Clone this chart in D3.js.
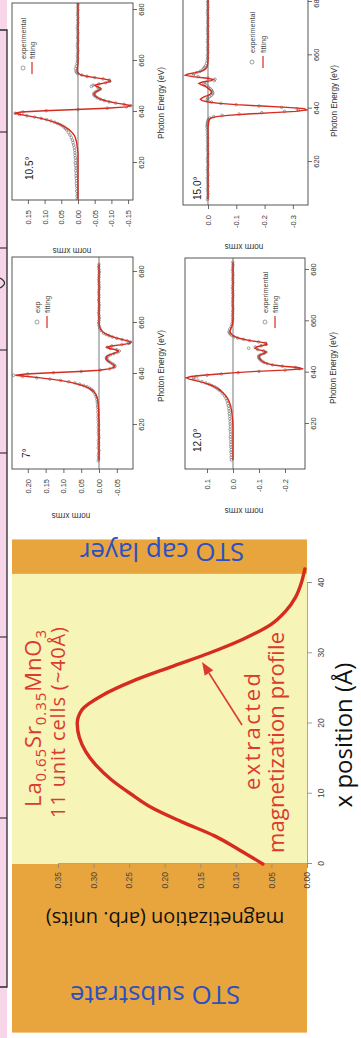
<!DOCTYPE html>
<html>
<head>
<meta charset="utf-8">
<script src="https://cdn.jsdelivr.net/npm/d3@7/dist/d3.min.js"></script>
<style>
  html, body { margin: 0; padding: 0; background: #fff; }
  svg { display: block; }
</style>
</head>
<body>
<svg id="slide" width="361" height="1038"></svg>
<script>
// ---------- magnetization depth profile ----------
const positionA = [0, 2, 4, 6, 8, 10, 12, 14, 16, 18, 20, 22, 24, 26, 28, 30, 32, 34, 36, 38, 40, 42];
const magnetization = [0.062, 0.095, 0.130, 0.176, 0.218, 0.248, 0.275, 0.296, 0.311, 0.320, 0.323,
                       0.316, 0.288, 0.246, 0.193, 0.138, 0.090, 0.052, 0.030, 0.016, 0.008, 0.003];
const positionTicks = [0, 10, 20, 30, 40];
const magnetizationTicks = [0, 0.05, 0.10, 0.15, 0.20, 0.25, 0.30, 0.35];
// layer boundaries in Å: substrate | LSMO film | cap
const layerEdges = [-24, 0, 41.3, 46.2];

// ---------- XRMS spectra: photon energy grid (eV) ----------
const energyEV = [
  606,607,608,609,610,611,612,613,614,615,616,617,618,619,620,621,622,623,624,625,626,627,628,629,630,631,632,633,
  633.5,634,634.5,635,635.5,636,636.5,637,637.5,638,638.5,639,639.5,640,640.5,641,641.5,642,642.5,643,643.5,644,644.5,
  645,645.5,646,646.5,647,647.5,648,648.5,649,649.5,650,650.5,651,651.5,652,652.5,653,653.5,654,654.5,655,655.5,656,
  657,658,659,660,661,662,663,664,665,666,667,668,669,670,671,672,673,674,675,676,677,678,679,680,681,682,683
];

// 7 degrees
const fit7 = [
  0,0,0,0,0,0,0,0,0,0,0,0,0,0,0,0,0,0.001,0.001,0.001,0.001,0.002,0.002,0.003,0.004,0.006,0.009,0.014,
  0.018,0.023,0.029,0.037,0.047,0.059,0.073,0.09,0.11,0.135,0.165,0.2,0.235,0.205,0.135,0.055,0,-0.028,-0.04,-0.044,-0.042,-0.037,-0.031,
  -0.026,-0.022,-0.02,-0.02,-0.023,-0.03,-0.04,-0.05,-0.055,-0.048,-0.03,-0.022,-0.035,-0.065,-0.086,-0.09,-0.08,-0.066,-0.052,-0.04,-0.03,-0.022,-0.015,
  -0.007,-0.003,-0.001,0,0,0,0,0,0,0,0,0,0,0,0,0,0,0,0,0,0,0,0,0,0,0,0
];
const exp7 = [
  0.002,0.001,0.002,0.001,0,0.002,0.001,0.001,0.002,0,0.001,0.002,0.001,0.002,0.001,0.002,0.002,0.003,0.002,0.003,0.003,0.004,0.004,0.005,0.006,0.008,0.011,0.015,
  0.018,0.022,0.027,0.034,0.043,0.054,0.068,0.085,0.108,0.138,0.175,0.215,0.24,0.2,0.128,0.05,-0.003,-0.03,-0.041,-0.045,-0.043,-0.038,-0.032,
  -0.027,-0.023,-0.021,-0.021,-0.025,-0.032,-0.042,-0.052,-0.057,-0.05,-0.032,-0.024,-0.036,-0.064,-0.084,-0.088,-0.079,-0.065,-0.05,-0.038,-0.028,-0.02,-0.013,
  -0.006,-0.002,0,0.001,0,-0.001,0,0.001,0,0,-0.001,0,0.001,0,0,0.001,0,-0.001,0,0,0.001,0,0,-0.001,0,0.001,0
];

// 10.5 degrees
const fit105 = [
  0,0,0,0,0,0,0,0,0,0,0,0,0,0,0,0,0,0,0,0.001,0.002,0.003,0.004,0.006,0.008,0.012,0.018,0.026,
  0.031,0.037,0.044,0.052,0.061,0.071,0.083,0.096,0.111,0.129,0.15,0.172,0.19,0.17,0.1,0.005,-0.085,-0.145,-0.16,-0.14,-0.115,-0.095,-0.08,
  -0.068,-0.06,-0.054,-0.05,-0.048,-0.05,-0.055,-0.062,-0.068,-0.066,-0.056,-0.05,-0.064,-0.085,-0.097,-0.095,-0.076,-0.05,-0.026,-0.01,-0.002,0.001,0.002,
  0.002,0.001,0,0,0,0,0,0,0,0,0,0,0,0,0,0,0,0,0,0,0,0,0,0,0,0,0
];
const exp105 = [
  0.002,0.003,0.002,0.004,0.003,0.004,0.005,0.004,0.005,0.006,0.005,0.007,0.006,0.007,0.008,0.007,0.008,0.009,0.009,0.01,0.011,0.013,0.015,0.017,0.02,0.024,0.029,0.034,
  0.037,0.041,0.046,0.053,0.061,0.07,0.081,0.094,0.11,0.13,0.153,0.175,0.188,0.165,0.095,0,-0.088,-0.145,-0.158,-0.138,-0.113,-0.093,-0.079,
  -0.067,-0.059,-0.053,-0.049,-0.047,-0.049,-0.054,-0.061,-0.067,-0.06,-0.04,-0.045,-0.062,-0.083,-0.095,-0.093,-0.075,-0.05,-0.027,-0.011,0,0.004,0.006,
  0.007,0.005,0.003,0.002,0.001,0.002,0.001,0,0.001,0.002,0.001,0,0.001,0.001,0,0.001,0.002,0.001,0,0.001,0,0.001,0.001,0,0.001,0,0.001
];

// 12.0 degrees
const fit12 = [
  0,0,0,0,0,0,0,0,0,0,0,0,0,0,0.001,0.001,0.002,0.003,0.004,0.005,0.007,0.009,0.012,0.016,0.021,0.028,0.037,0.048,
  0.054,0.062,0.071,0.082,0.095,0.11,0.128,0.148,0.168,0.18,0.162,0.115,0.055,-0.01,-0.09,-0.2,-0.27,-0.25,-0.195,-0.155,-0.133,-0.12,-0.112,
  -0.106,-0.102,-0.1,-0.1,-0.107,-0.12,-0.128,-0.118,-0.096,-0.085,-0.09,-0.11,-0.13,-0.128,-0.1,-0.065,-0.04,-0.02,-0.007,0.001,0.006,0.01,0.012,
  0.009,0.005,0.002,0.001,0,0,0,0,0,0,0,0,0,0,0,0,0,0,0,0,0,0,0,0,0,0,0
];
const exp12 = [
  0.006,0.007,0.006,0.008,0.007,0.008,0.009,0.008,0.009,0.01,0.009,0.01,0.011,0.01,0.011,0.011,0.012,0.013,0.014,0.015,0.016,0.018,0.02,0.023,0.027,0.033,0.041,0.05,
  0.056,0.063,0.071,0.081,0.092,0.105,0.12,0.135,0.15,0.152,0.14,0.1,0.045,-0.02,-0.1,-0.2,-0.255,-0.24,-0.19,-0.152,-0.131,-0.119,-0.111,
  -0.105,-0.101,-0.099,-0.099,-0.106,-0.119,-0.126,-0.117,-0.095,-0.06,-0.085,-0.108,-0.127,-0.125,-0.098,-0.064,-0.04,-0.018,-0.004,0.005,0.01,0.014,0.015,
  0.012,0.007,0.004,0.002,0.001,0.002,0.001,0.001,0,0.001,0.002,0.001,0.001,0,0.001,0.001,0.002,0.001,0,0.001,0.001,0,0.001,0.002,0.001,0,0.001
];

// 15.0 degrees
const fit15 = [
  0,0,0,0,0,0,0,0,0,0,0,0,0,0,0,0,0,0,0,0,0,0,0,0,0,0,0,0,
  -0.001,-0.001,-0.002,-0.002,-0.003,-0.005,-0.01,-0.03,-0.07,-0.14,-0.23,-0.31,-0.35,-0.34,-0.28,-0.19,-0.1,-0.04,0,0.02,0.027,0.022,0.012,
  0,-0.008,-0.012,-0.012,-0.008,-0.002,0.004,0.012,0.025,0.032,0.02,-0.012,-0.018,0.01,0.055,0.08,0.07,0.045,0.025,0.013,0.007,0.004,0.002,
  0.001,0,0,0,0,0,0,0,0,0,0,0,0,0,0,0,0,0,0,0,0,0,0,0,0,0,0
];
const exp15 = [
  0.002,0.001,0,0.001,0.002,0,0.001,0.001,0.002,0,0.001,0.002,0.001,0,0.001,0.002,0.001,0,0.001,0.002,0.001,0.001,0.002,0.001,0.002,0.002,0.003,0.003,
  0.003,0.002,0.002,0.001,0,-0.002,-0.006,-0.02,-0.05,-0.11,-0.19,-0.27,-0.32,-0.315,-0.26,-0.18,-0.1,-0.045,-0.012,0,0.003,0,-0.006,
  -0.012,-0.016,-0.017,-0.015,-0.012,-0.007,-0.002,0.004,0.012,0.015,0.005,-0.022,-0.025,0,0.035,0.052,0.05,0.04,0.028,0.02,0.015,0.012,0.009,
  0.005,0.003,0.001,0.002,0,0.001,0.001,0,0.002,0.001,0,0.001,0.001,0.002,0,0.001,0.001,0,0.001,0.002,0.001,0,0.001,0.001,0,0.001,0.001
];

const angleLabels = ["7°", "10.5°", "12.0°", "15.0°"];
const energyTicks = [620, 640, 660, 680];
const xrmsTicks7 = [-0.05, 0, 0.05, 0.10, 0.15, 0.20];
const xrmsTicks105 = [-0.15, -0.10, -0.05, 0, 0.05, 0.10, 0.15];
const xrmsTicks12 = [-0.2, -0.1, 0, 0.1];
const xrmsTicks15 = [-0.3, -0.2, -0.1, 0];
const legendLabels7 = ["exp", "fitting"];
const legendLabels = ["experimental", "fitting"];

// ---------- styling ----------
const ORANGE = "#e8a53d", YELLOW = "#f6f4b7", BLUE = "#2b50c6", RED = "#d62c1f", RED_TEXT = "#db3b2f";
const PINK = "#f8d6ea";
const SLIDE_FONT = "'Open Sans', 'DejaVu Sans', sans-serif";
const PLOT_FONT = "'Liberation Sans', Arial, sans-serif";

const svg = d3.select("#slide");
svg.append("rect").attr("width", 361).attr("height", 1038).attr("fill", "#fff");

// the slide is laid out landscape (1038 x 361) and turned a quarter turn
const slide = svg.append("g").attr("transform", "translate(0,1038) rotate(-90)");

// strip of the table above the figures
slide.append("rect").attr("x", 0).attr("y", 0).attr("width", 1038).attr("height", 7).attr("fill", PINK);
slide.append("path")
  .attr("d", "M51,0 V7 H1008 V0")
  .attr("fill", "none").attr("stroke", "#2a2a2a").attr("stroke-width", 1.3);
[220, 401, 585, 688, 790, 906].forEach(xp => {
  slide.append("line").attr("x1", xp).attr("x2", xp).attr("y1", 0).attr("y2", 7)
    .attr("stroke", "#2a2a2a").attr("stroke-width", 1.1);
});
slide.append("path").attr("d", "M750,0 Q755,9 760,0")
  .attr("fill", "none").attr("stroke", "#2a2a2a").attr("stroke-width", 1.2);

// ================= magnetization profile =================
const mx = d3.scaleLinear().domain([0, 40]).range([174, 455]);
const my = d3.scaleLinear().domain([0, 0.35]).range([307, 58]);
const bandTop = 12, bandBottom = 307;

slide.selectAll("rect.layer").data(d3.pairs(layerEdges)).join("rect")
  .attr("class", "layer")
  .attr("x", d => mx(d[0])).attr("width", d => mx(d[1]) - mx(d[0]))
  .attr("y", bandTop).attr("height", bandBottom - bandTop)
  .attr("fill", (d, i) => i === 1 ? YELLOW : ORANGE);

// axes
const magYAxis = d3.axisLeft(my).tickValues(magnetizationTicks).tickSize(4).tickPadding(4)
  .tickFormat(v => v.toFixed(2));
const gy = slide.append("g").attr("transform", `translate(${mx(0)},0)`).call(magYAxis);
const magXAxis = d3.axisBottom(mx).tickValues(positionTicks).tickSize(5).tickPadding(6);
const gx = slide.append("g").attr("transform", `translate(0,${my(0)})`).call(magXAxis);
[gx, gy].forEach(g => {
  g.select(".domain").attr("stroke", "#a89060").attr("stroke-width", 0.8);
  g.selectAll(".tick line").attr("stroke", "#8a8a8a").attr("stroke-width", 0.8);
  g.selectAll(".tick text").attr("fill", "#444").attr("font-size", 8.5).attr("font-family", PLOT_FONT);
});

// profile curve
slide.append("path")
  .datum(positionA.map((p, i) => [p, magnetization[i]]))
  .attr("d", d3.line().x(d => mx(d[0])).y(d => my(d[1])).curve(d3.curveMonotoneX))
  .attr("fill", "none").attr("stroke", RED).attr("stroke-width", 3.4).attr("stroke-linecap", "round");

// layer captions
function rotatedLabel(text, xBase, yCenter, size, color) {
  slide.append("text")
    .attr("transform", `translate(${xBase},${yCenter}) rotate(-90)`)
    .attr("text-anchor", "middle")
    .attr("font-family", SLIDE_FONT).attr("font-size", size).attr("fill", color)
    .text(text);
}
rotatedLabel("STO substrate", 52, 155, 26, BLUE);
rotatedLabel("STO cap layer", 495, 162, 26, BLUE);
rotatedLabel("magnetization (arb. units)", 126, 165, 20, "#111");

slide.append("text").attr("x", 303).attr("y", 352).attr("text-anchor", "middle")
  .attr("font-family", SLIDE_FONT).attr("font-size", 24).attr("fill", "#111")
  .text("x position (Å)");

// film composition
const comp = slide.append("text").attr("x", 231).attr("y", 41)
  .attr("font-family", SLIDE_FONT).attr("font-size", 22).attr("fill", RED_TEXT)
  .attr("textLength", 177).attr("lengthAdjust", "spacing");
[["La", false], ["0.65", true], ["Sr", false], ["0.35", true], ["MnO", false], ["3", true]].forEach(([t, sub]) => {
  const ts = comp.append("tspan").text(t);
  if (sub) ts.attr("font-size", 15).attr("dy", 5);
  else ts.attr("dy", comp.selectAll("tspan").size() > 1 ? -5 : 0);
});
slide.append("text").attr("x", 220).attr("y", 65)
  .attr("font-family", SLIDE_FONT).attr("font-size", 20).attr("fill", RED_TEXT)
  .attr("textLength", 191).attr("lengthAdjust", "spacing")
  .text("11 unit cells (~40Å)");

slide.append("text").attr("x", 248).attr("y", 260)
  .attr("font-family", SLIDE_FONT).attr("font-size", 22).attr("fill", RED_TEXT)
  .attr("textLength", 117).attr("lengthAdjust", "spacing").text("extracted");
slide.append("text").attr("x", 185).attr("y", 284)
  .attr("font-family", SLIDE_FONT).attr("font-size", 22).attr("fill", RED_TEXT)
  .attr("textLength", 221).attr("lengthAdjust", "spacing").text("magnetization profile");

// arrow from caption to curve
const arrowTail = [313, 242], arrowTip = [376, 202];
{
  const dx = arrowTip[0] - arrowTail[0], dy = arrowTip[1] - arrowTail[1];
  const len = Math.hypot(dx, dy), ux = dx / len, uy = dy / len;
  const hl = 13, hw = 5;
  const bx = arrowTip[0] - ux * hl, by = arrowTip[1] - uy * hl;
  slide.append("line").attr("x1", arrowTail[0]).attr("y1", arrowTail[1]).attr("x2", bx).attr("y2", by)
    .attr("stroke", RED_TEXT).attr("stroke-width", 1.6);
  slide.append("polygon")
    .attr("points", [[arrowTip[0], arrowTip[1]], [bx - uy * hw, by + ux * hw], [bx + uy * hw, by - ux * hw]].map(p => p.join(",")).join(" "))
    .attr("fill", RED_TEXT);
}

// ================= XRMS panels =================
const panels = [
  { id: 0, fit: fit7, exp: exp7, ticks: xrmsTicks7, digits: 2, legend: legendLabels7,
    left: 569, right: 781, top: 12, bottom: 133, eDomain: [602.75, 685.88], vDomain: [-0.0955, 0.2444],
    angle: [580, 30], leg: [716, 37, 10], ytitle: [525, 71], xtitle: [672, 164] },
  { id: 1, fit: fit105, exp: exp105, ticks: xrmsTicks105, digits: 2, legend: legendLabels,
    left: 838, right: 1035, top: 12, bottom: 133, eDomain: [605.49, 682.75], vDomain: [-0.1647, 0.1976],
    angle: [858, 33], leg: [970, 23, 9], ytitle: [790, 72], xtitle: [935, 164] },
  { id: 2, fit: fit12, exp: exp12, ticks: xrmsTicks12, digits: 1, legend: legendLabels,
    left: 569, right: 780, top: 185, bottom: 305, eDomain: [602.47, 684.67], vDomain: [-0.2769, 0.1846],
    angle: [586, 201], leg: [716, 265, 10], ytitle: [530, 244], xtitle: [670, 336] },
  { id: 3, fit: fit15, exp: exp15, ticks: xrmsTicks15, digits: 1, legend: legendLabels,
    left: 833, right: 1043, top: 183, bottom: 308, eDomain: [603.9, 682.6], vDomain: [-0.3534, 0.0883],
    angle: [838, 201], leg: [976, 252, 11], ytitle: [794, 244], xtitle: [937, 337] }
];

panels.forEach((p, k) => {
  const g = slide.append("g");
  const x = d3.scaleLinear().domain(p.eDomain).range([p.left, p.right]);
  const y = d3.scaleLinear().domain(p.vDomain).range([p.bottom, p.top]);
  const clipId = "panelclip" + p.id;
  g.append("clipPath").attr("id", clipId).append("rect")
    .attr("x", p.left).attr("y", p.top).attr("width", p.right - p.left).attr("height", p.bottom - p.top);
  const plot = g.append("g").attr("clip-path", `url(#${clipId})`);

  plot.append("line").attr("x1", p.left).attr("x2", p.right).attr("y1", y(0)).attr("y2", y(0))
    .attr("stroke", "#555").attr("stroke-width", 0.8);

  plot.selectAll("circle").data(energyEV.map((e, i) => [e, p.exp[i]])).join("circle")
    .attr("cx", d => x(d[0])).attr("cy", d => y(d[1])).attr("r", 1.3)
    .attr("fill", "none").attr("stroke", "#666").attr("stroke-width", 0.6);

  plot.append("path").datum(energyEV.map((e, i) => [e, p.fit[i]]))
    .attr("d", d3.line().x(d => x(d[0])).y(d => y(d[1])))
    .attr("fill", "none").attr("stroke", RED).attr("stroke-width", 1.4);

  g.append("rect").attr("x", p.left).attr("y", p.top)
    .attr("width", p.right - p.left).attr("height", p.bottom - p.top)
    .attr("fill", "none").attr("stroke", "#444").attr("stroke-width", 0.9);

  const ax = g.append("g").attr("transform", `translate(0,${p.bottom})`)
    .call(d3.axisBottom(x).tickValues(energyTicks).tickSize(4).tickPadding(2));
  const ay = g.append("g").attr("transform", `translate(${p.left},0)`)
    .call(d3.axisLeft(y).tickValues(p.ticks).tickSize(4).tickPadding(6).tickFormat(v => v.toFixed(p.digits)));
  [ax, ay].forEach(a => {
    a.select(".domain").remove();
    a.selectAll(".tick line").attr("stroke", "#444").attr("stroke-width", 0.8);
    a.selectAll(".tick text").attr("fill", "#333").attr("font-size", 7.5).attr("font-family", PLOT_FONT);
  });

  g.append("text").attr("x", p.xtitle[0]).attr("y", p.xtitle[1]).attr("text-anchor", "middle")
    .attr("font-family", PLOT_FONT).attr("font-size", 8.2).attr("fill", "#333").text("Photon Energy (eV)");
  g.append("text").attr("transform", `translate(${p.ytitle[0]},${p.ytitle[1]}) rotate(-90)`)
    .attr("text-anchor", "middle").attr("font-family", PLOT_FONT).attr("font-size", 8.2).attr("fill", "#333")
    .text("norm xrms");

  g.append("text").attr("x", p.angle[0]).attr("y", p.angle[1])
    .attr("font-family", PLOT_FONT).attr("font-size", 10).attr("fill", "#222").text(angleLabels[k]);

  const [lx, ly, gap] = p.leg;
  g.append("circle").attr("cx", lx).attr("cy", ly).attr("r", 2)
    .attr("fill", "none").attr("stroke", "#777").attr("stroke-width", 0.7);
  g.append("line").attr("x1", lx - 6).attr("x2", lx + 6).attr("y1", ly + gap).attr("y2", ly + gap)
    .attr("stroke", RED).attr("stroke-width", 1.2);
  g.selectAll("text.leg").data(p.legend).join("text").attr("class", "leg")
    .attr("x", lx + 9).attr("y", (d, i) => ly + 2.5 + i * gap)
    .attr("font-family", PLOT_FONT).attr("font-size", 7.2).attr("fill", "#444").text(d => d);
});
</script>
</body>
</html>
